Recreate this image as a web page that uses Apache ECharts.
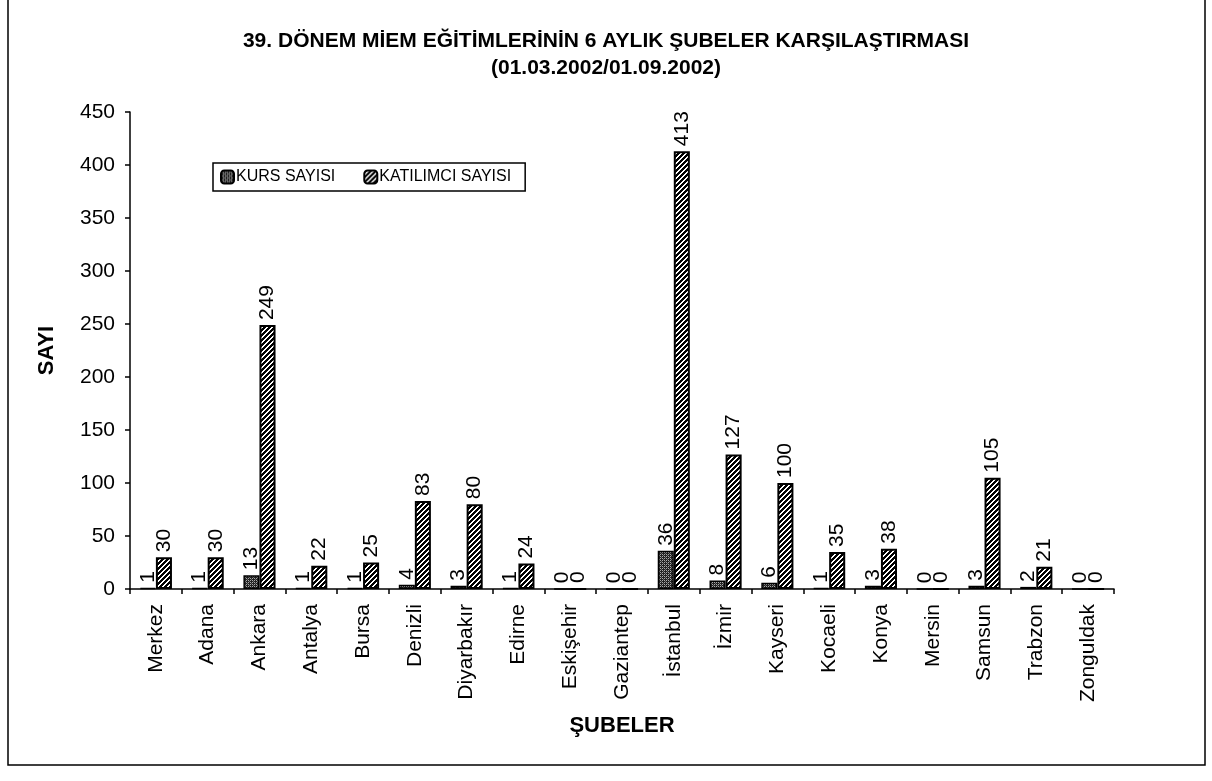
<!DOCTYPE html>
<html>
<head>
<meta charset="utf-8">
<script src="https://cdn.jsdelivr.net/npm/echarts@6/dist/echarts.min.js"></script>
<style>
html,body{margin:0;padding:0;background:#fff;}
#chart{width:1212px;height:781px;}
</style>
</head>
<body>
<div id="chart"></div>
<script>
const categories = ['Merkez','Adana','Ankara','Antalya','Bursa','Denizli','Diyarbakır','Edirne','Eskişehir','Gaziantep','İstanbul','İzmir','Kayseri','Kocaeli','Konya','Mersin','Samsun','Trabzon','Zonguldak'];
const kursSayisi = [1,1,13,1,1,4,3,1,0,0,36,8,6,1,3,0,3,2,0];
const katilimciSayisi = [30,30,249,22,25,83,80,24,0,0,413,127,100,35,38,0,105,21,0];
const seriesNames = ['KURS SAYISI','KATILIMCI SAYISI'];
const titleLines = ['39. DÖNEM MİEM EĞİTİMLERİNİN 6 AYLIK ŞUBELER KARŞILAŞTIRMASI','(01.03.2002/01.09.2002)'];

function hatchPattern(){
  const c = document.createElement('canvas'); c.width = 5; c.height = 5;
  const g = c.getContext('2d');
  g.fillStyle = '#fff'; g.fillRect(0,0,5,5);
  g.fillStyle = '#000';
  for (let x=0;x<5;x++) for (let y=0;y<5;y++) if ((x+y)%5 < 3) g.fillRect(x,y,1,1);
  return c;
}
function dotPattern(){
  const c = document.createElement('canvas'); c.width = 4; c.height = 4;
  const g = c.getContext('2d');
  g.fillStyle = '#222'; g.fillRect(0,0,4,4);
  g.fillStyle = '#aaa';
  g.fillRect(0,0,1,1); g.fillRect(2,2,1,1); g.fillRect(2,0,1,1); g.fillRect(0,2,1,1);
  g.fillStyle = '#666'; g.fillRect(1,1,1,1); g.fillRect(3,3,1,1);
  return c;
}

const font = '"Liberation Sans", Arial, sans-serif';

const labelCfg = {
  show: true, position: 'top', rotate: 90, align: 'left', verticalAlign: 'middle',
  distance: 5, color: '#000', fontSize: 21, fontFamily: font
};

const chart = echarts.init(document.getElementById('chart'), null, {renderer:'canvas'});
chart.setOption({
  backgroundColor: '#fff',
  animation: false,
  title: {
    text: titleLines.join('\n'),
    left: 'center', top: 23,
    textStyle: {fontFamily: font, fontWeight: 'bold', fontSize: 21, color: '#000', lineHeight: 27}
  },
  legend: {
    left: 213, top: 163,
    data: seriesNames,
    orient: 'horizontal',
    itemWidth: 13, itemHeight: 13, itemGap: 28,
    padding: [6, 14, 6, 7],
    borderColor: '#000', borderWidth: 1.5,
    textStyle: {fontFamily: font, fontSize: 16, color: '#000', padding: [0,0,0,-3]}
  },
  grid: {left: 130, right: 98, top: 112, bottom: 192, containLabel: false},
  xAxis: {
    type: 'category', data: categories,
    name: 'ŞUBELER', nameLocation: 'middle', nameGap: 126,
    nameTextStyle: {fontFamily: font, fontWeight: 'bold', fontSize: 22, color: '#000'},
    axisLine: {lineStyle: {color: '#000', width: 1.5}},
    axisTick: {show: true, length: 5, lineStyle: {color: '#000', width: 1.5}},
    axisLabel: {rotate: 90, margin: 15, color: '#000', fontSize: 21, fontFamily: font, interval: 0}
  },
  yAxis: {
    type: 'value', min: 0, max: 450, interval: 50,
    name: 'SAYI', nameLocation: 'middle', nameGap: 72,
    nameTextStyle: {fontFamily: font, fontWeight: 'bold', fontSize: 22, color: '#000'},
    axisLine: {show: true, lineStyle: {color: '#000', width: 1.5}},
    axisTick: {show: true, length: 5, lineStyle: {color: '#000', width: 1.5}},
    axisLabel: {margin: 15, color: '#000', fontSize: 21, fontFamily: font},
    splitLine: {show: false}
  },
  series: [
    {
      name: seriesNames[0], type: 'bar', data: kursSayisi,
      barGap: '0%', barCategoryGap: '38%',
      itemStyle: {color: {image: dotPattern(), repeat: 'repeat'}, borderColor: '#000', borderWidth: 1.5},
      label: labelCfg
    },
    {
      name: seriesNames[1], type: 'bar', data: katilimciSayisi,
      barGap: '0%', barCategoryGap: '38%',
      itemStyle: {color: {image: hatchPattern(), repeat: 'repeat'}, borderColor: '#000', borderWidth: 2},
      label: labelCfg
    }
  ],
  graphic: [{
    type: 'rect', shape: {x: 8, y: -5, width: 1197, height: 770},
    style: {fill: 'none', stroke: '#000', lineWidth: 1.5}, silent: true
  }]
});
</script>
</body>
</html>
